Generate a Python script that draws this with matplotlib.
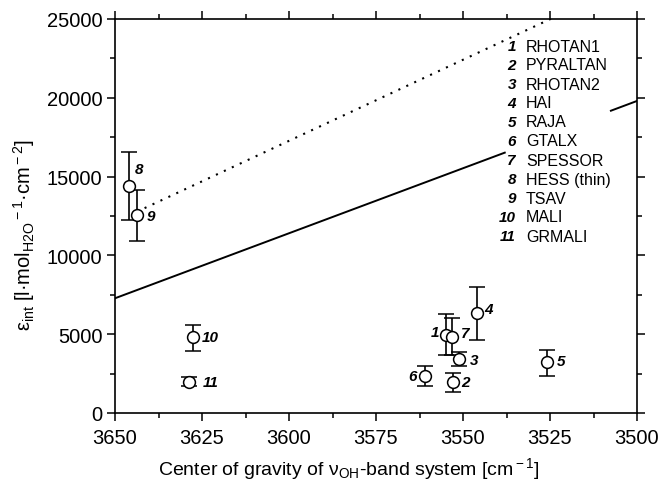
import matplotlib
matplotlib.use("Agg")
import matplotlib.pyplot as plt
from matplotlib.ticker import MultipleLocator

plt.rcParams['font.family'] = ['Liberation Sans', 'DejaVu Sans']
plt.rcParams['mathtext.fontset'] = 'custom'
plt.rcParams['mathtext.rm'] = 'Liberation Sans'
plt.rcParams['mathtext.it'] = 'Liberation Sans:italic'
plt.rcParams['mathtext.bf'] = 'Liberation Sans:bold'

# ---- data ----
ids = ['1', '2', '3', '4', '5', '6', '7', '8', '9', '10', '11']
names = ['RHOTAN1', 'PYRALTAN', 'RHOTAN2', 'HAI', 'RAJA', 'GTALX',
         'SPESSOR', 'HESS (thin)', 'TSAV', 'MALI', 'GRMALI']
center = [3554.9, 3553.0, 3551.1, 3546.0, 3525.9, 3560.9, 3553.1,
          3645.9, 3643.8, 3627.6, 3628.8]
eps = [4970, 1990, 3430, 6330, 3215, 2370, 4840, 14420, 12560, 4820, 1990]
err_up = [6280, 2520, 3850, 7980, 4020, 2960, 6030, 16540, 14170, 5590, 2260]
err_lo = [3680, 1350, 3000, 4630, 2370, 1730, 3700, 12250, 10930, 3930, 1690]

solid_x1 = [3650, 3538]
solid_y1 = [7280, 16520]
solid_x2 = [3507.5, 3500]
solid_y2 = [19180, 19800]
dotted_x = [3641.5, 3520]
dotted_y = [13000, 25500]

# label offsets (points) and alignment for point numbers
lab_off = {'1': (-5, 2, 'right'), '2': (6, 0, 'left'), '3': (8, -1, 'left'),
           '4': (5, 3, 'left'), '5': (7, 1, 'left'), '6': (-6, 0, 'right'),
           '7': (6, 3, 'left'), '8': (4, 12, 'left'), '9': (7, -1, 'left'),
           '10': (6, 0, 'left'), '11': (10, 0, 'left')}

fig = plt.figure(figsize=(6.61, 4.89), dpi=100)
ax = fig.add_axes([115/661, 1-414/489, 522/661, 394/489])

ax.plot(solid_x1, solid_y1, color='black', lw=1.4, zorder=2)
ax.plot(solid_x2, solid_y2, color='black', lw=1.4, zorder=2)
ax.plot(dotted_x, dotted_y, color='black', lw=1.5, ls=(0, (1, 3.2)), zorder=2)

yerr = [[e - l for e, l in zip(eps, err_lo)], [u - e for e, u in zip(eps, err_up)]]
ax.errorbar(center, eps, yerr=yerr, fmt='o', mfc='white', mec='black', mew=1.1,
            ms=8.5, ecolor='black', elinewidth=1.2, capsize=6, capthick=1.2,
            color='black', zorder=3)

for i, c, e in zip(ids, center, eps):
    dx, dy, ha = lab_off[i]
    ax.annotate(i, (c, e), xytext=(dx, dy), textcoords='offset points',
                ha=ha, va='center', fontsize=11, fontweight='bold',
                fontstyle='italic')

for k, (i, n) in enumerate(zip(ids, names)):
    y = (414 - (47 + 19.0 * k)) / 394
    ax.text(0.768, y, i, transform=ax.transAxes, ha='right', va='center',
            fontsize=11, fontweight='bold', fontstyle='italic')
    ax.text(0.787, y, n, transform=ax.transAxes, ha='left', va='center',
            fontsize=11.5)

ax.set_xlim(3650, 3500)
ax.set_ylim(0, 25000)
ax.xaxis.set_major_locator(MultipleLocator(25))
ax.xaxis.set_minor_locator(MultipleLocator(12.5))
ax.yaxis.set_major_locator(MultipleLocator(5000))
ax.yaxis.set_minor_locator(MultipleLocator(2500))
ax.tick_params(which='both', direction='out', top=True, right=True,
               labelsize=14.5, width=1.1)
ax.tick_params(which='major', length=6)
ax.tick_params(which='minor', length=3.5)
ax.tick_params(axis='x', which='major', pad=5)
ax.tick_params(axis='y', which='major', pad=3)
for s in ax.spines.values():
    s.set_linewidth(1.2)

ax.set_xlabel(r'Center of gravity of ν$_{\rm OH}$-band system [cm$^{\rm -1}$]',
              fontsize=14, va='center')
ax.xaxis.set_label_coords(0.448, (414 - 469) / 394)
ax.set_ylabel(r'ε$_{\rm int}$ [l·mol$_{\rm H2O}$$^{\rm -1}$·cm$^{\rm -2}$]',
              fontsize=14.5, va='center')
ax.yaxis.set_label_coords((24 - 115) / 522, (414 - 235) / 394)

fig.savefig('out.png', dpi=100)
